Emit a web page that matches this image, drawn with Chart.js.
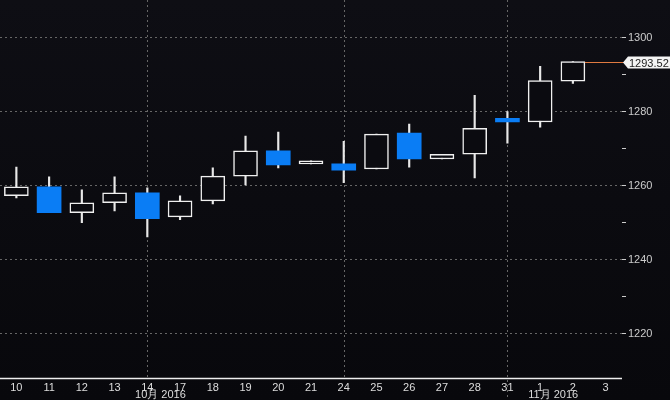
<!DOCTYPE html>
<html><head><meta charset="utf-8">
<script src="https://cdn.jsdelivr.net/npm/chart.js@4"></script>
<style>html,body{margin:0;padding:0;background:#0b0b10;}#w{width:670px;height:400px;background:linear-gradient(#0e0e14,#08080c);}</style>
</head><body><div id="w"><canvas id="c" width="670" height="400"></canvas></div>
<script>
const labels=['10','11','12','13','14','17','18','19','20','21','24','25','26','27','28','31','1','2','3'];
const opens =[1257.3,1259.7,1252.7,1255.4,1258.1,1251.6,1255.9,1262.6,1269.4,1265.9,1265.9,1264.5,1274.2,1267.2,1268.5,1278.2,1277.2,1288.2,null];
const closes=[1259.7,1252.7,1255.4,1258.1,1251.1,1255.9,1262.6,1269.4,1265.6,1266.7,1264.2,1273.9,1267.2,1268.5,1275.5,1277.2,1288.4,1293.5,null];
const highs =[1265.0,1262.4,1258.9,1262.4,1259.4,1257.3,1264.8,1273.4,1274.5,1266.7,1272.0,1273.9,1276.6,1268.5,1284.4,1280.0,1292.2,1293.5,null];
const lows  =[1256.7,1252.7,1250.0,1253.2,1246.2,1250.8,1255.1,1260.2,1264.8,1265.9,1260.8,1264.5,1265.0,1267.2,1262.1,1271.5,1275.8,1287.6,null];
const lastPrice=1293.52;
const monthLabels=[{at:4.4,text:'10月 2016'},{at:16.4,text:'11月 2016'}];
const vLines=[4,10,15];
const up=opens.map((o,i)=>closes[i]>=o);
const bodies=opens.map((o,i)=>o==null?null:[o,closes[i]]);
const wicks=highs.map((h,i)=>h==null?null:[lows[i],h]);
const BG='#0b0b10',BLUE='#0a7df5';
const extra={id:'extra',
 beforeDatasetsDraw(ch){const{ctx,chartArea:a,scales:{x,y}}=ch;ctx.save();ctx.strokeStyle='#666';ctx.setLineDash([2,3]);ctx.lineWidth=1;
  vLines.forEach(i=>{const px=Math.round(x.getPixelForValue(i))+0.5;ctx.beginPath();ctx.moveTo(px,0);ctx.lineTo(px,a.bottom+(i===15?22:0));ctx.stroke();});ctx.restore();},
 afterDraw(ch){const{ctx,chartArea:a,scales:{x,y}}=ch;ctx.save();
  const py=Math.round(y.getPixelForValue(lastPrice))+0.5;ctx.strokeStyle='#e07a40';ctx.lineWidth=1;ctx.beginPath();ctx.moveTo(x.getPixelForValue(17)+12,py);ctx.lineTo(a.right+2,py);ctx.stroke();
  ctx.fillStyle='#f4f4f4';ctx.beginPath();ctx.moveTo(a.right+1,py);ctx.lineTo(a.right+6,py-6);ctx.lineTo(670,py-6);ctx.lineTo(670,py+6);ctx.lineTo(a.right+6,py+6);ctx.closePath();ctx.fill();
  ctx.fillStyle='#222';ctx.font='11px "Liberation Sans"';ctx.textBaseline='middle';ctx.fillText(lastPrice.toFixed(2),a.right+7,py+1);
  ctx.fillStyle='#ddd';ctx.textAlign='center';ctx.textBaseline='top';
  labels.forEach((l,i)=>ctx.fillText(l,x.getPixelForValue(i),a.bottom+4));
  monthLabels.forEach(m=>ctx.fillText(m.text,x.getPixelForValue(m.at),389));
  ctx.strokeStyle='#eee';ctx.lineWidth=1.5;ctx.beginPath();ctx.moveTo(0,a.bottom+0.5);ctx.lineTo(a.right,a.bottom+0.5);ctx.stroke();
  ctx.restore();}};
new Chart(document.getElementById('c'),{type:'bar',
 data:{labels,datasets:[
  {data:wicks,backgroundColor:'#e8e8e8',barThickness:1.5,grouped:false,order:2},
  {data:bodies,backgroundColor:up.map(u=>u?BG:BLUE),borderColor:up.map(u=>u?'#f0f0f0':BLUE),borderWidth:up.map(u=>u?1.5:0),borderSkipped:false,barThickness:24,grouped:false,order:1}]},
 options:{responsive:false,animation:false,layout:{padding:{left:-1,top:0,bottom:0,right:0}},
  plugins:{legend:{display:false},tooltip:{enabled:false}},
  scales:{x:{offset:true,afterFit(s){s.height=22;},grid:{display:false},border:{display:false},ticks:{display:false}},
   y:{position:'right',min:1208.1,max:1307.8,afterFit(s){s.width=48;},
    grid:{color:c=>c.tick.value%20===0?'#666':'rgba(0,0,0,0)',tickColor:c=>c.tick.value%10===0?'#ccc':'rgba(0,0,0,0)',tickLength:4,tickWidth:1,drawOnChartArea:true},
    border:{display:false,dash:[2,3]},
    ticks:{stepSize:10,color:'#ccc',font:{family:'Liberation Sans',size:11},padding:2,callback:v=>v%20===0?v:''}}}},
 plugins:[extra]});
</script></body></html>
